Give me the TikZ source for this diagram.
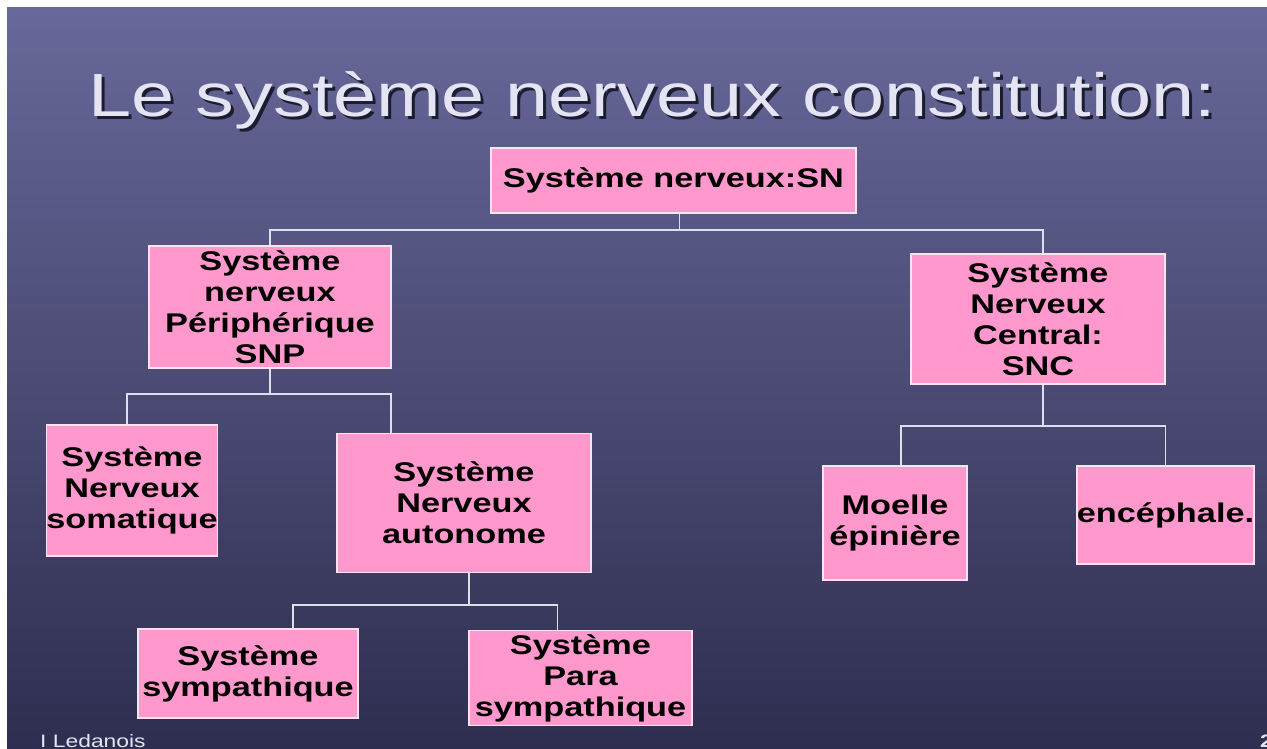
\documentclass[tikz,border=0pt]{standalone}
\usepackage{fontspec}
\setmainfont[FakeStretch=1.27]{Liberation Sans}
\usepackage{tikz}
\usetikzlibrary{positioning}

\definecolor{slidetop}{RGB}{104,104,154}
\definecolor{slidebottom}{RGB}{46,46,80}
\definecolor{boxpink}{RGB}{255,152,204}
\definecolor{boxedge}{RGB}{250,228,240}
\definecolor{linegrey}{RGB}{222,222,236}
\definecolor{titlecol}{RGB}{228,228,244}
\definecolor{titleshadow}{RGB}{28,28,48}

\begin{document}
\begin{tikzpicture}[
    x=1pt, y=-1pt,
    block/.style={rectangle, draw=boxedge, line width=1.5pt, fill=boxpink, inner sep=0pt,
        align=center, font=\fontsize{27}{31}\selectfont\bfseries},
    line/.style={draw, linegrey, line width=1.6pt}
]
    % slide background
    \useasboundingbox (0,0) rectangle (1267,749);
    \fill[white] (0,0) rectangle (1267,749);
    \shade[top color=slidetop, bottom color=slidebottom] (7,8) rectangle (1267,749);

    % title with its shadow
    \node [anchor=base west, inner sep=0pt, titleshadow, font=\fontsize{61}{70}\selectfont] (titleshade) at (91,120) {Le système nerveux constitution:};
    \node [anchor=base west, inner sep=0pt, titlecol, font=\fontsize{61}{70}\selectfont] (title) at (88,117) {Le système nerveux constitution:};

    % boxes
    \node [block, minimum width=365, minimum height=65] (sn) at (673.5,180.5) {Système nerveux:SN};
    \node [block, minimum width=242, minimum height=122] (snp) at (270,307) {Système\\nerveux\\Périphérique\\SNP};
    \node [block, minimum width=254, minimum height=130] (snc) at (1038,319) {Système\\Nerveux\\Central:\\SNC};
    \node [block, minimum width=166, minimum height=131] (soma) at (132,490.5) {Système\\Nerveux\\somatique};
    \node [block, minimum width=254, minimum height=139] (auto) at (464,503) {Système\\Nerveux\\autonome};
    \node [block, minimum width=220, minimum height=89] (symp) at (248,673.5) {Système\\sympathique};
    \node [block, minimum width=223, minimum height=95] (para) at (580.5,678) {Système\\Para\\sympathique};
    \node [block, minimum width=144, minimum height=114] (moelle) at (895,523) {Moelle\\épinière};
    \node [block, minimum width=177, minimum height=98] (ence) at (1165.5,515) {encéphale.};

    % connectors
    \path [line] ([xshift=6]sn.south) -- ++(0,16) -| (snp.north);
    \path [line] ([xshift=6]sn.south) -- ++(0,16) -| ([xshift=5]snc.north);
    \path [line] (snp.south) -- ++(0,25) -| ([xshift=-5]soma.north);
    \path [line] (snp.south) -- ++(0,25) -| ([xshift=-73]auto.north);
    \path [line] ([xshift=5]auto.south) -- ++(0,32) -| ([xshift=45]symp.north);
    \path [line] ([xshift=5]auto.south) -- ++(0,32) -| ([xshift=-23]para.north);
    \path [line] ([xshift=5]snc.south) -- ++(0,41) -| ([xshift=6]moelle.north);
    \path [line] ([xshift=5]snc.south) -- ++(0,41) -| (ence.north);

    % footer
    \node [anchor=base west, inner sep=0pt, titlecol, font=\fontsize{18}{20}\selectfont] (author) at (40,747) {I Ledanois};
    \node [anchor=base west, inner sep=0pt, titlecol, font=\fontsize{18}{20}\selectfont\bfseries] (pagenum) at (1260,747) {2};
\end{tikzpicture}
\end{document}
